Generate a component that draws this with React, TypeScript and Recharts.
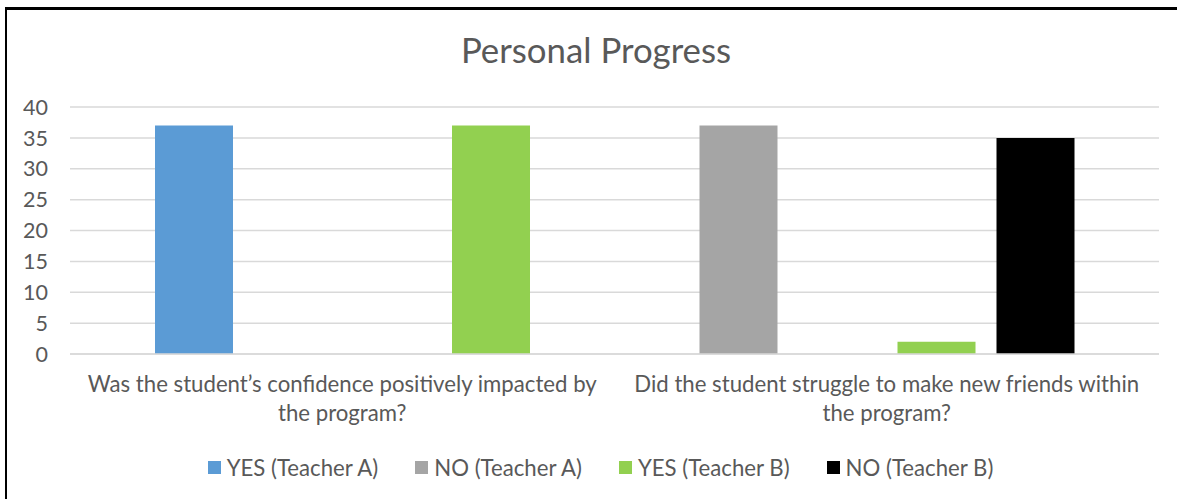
import React from "react";
import { BarChart, Bar, XAxis, YAxis, CartesianGrid, Legend, Cell } from "recharts";

const categories = [
  "Was the student’s confidence positively impacted by the program?",
  "Did the student struggle to make new friends within the program?",
];
const categoryLines = [
  ["Was the student’s confidence positively impacted by", "the program?"],
  ["Did the student struggle to make new friends within", "the program?"],
];
const seriesNames = ["YES (Teacher A)", "NO (Teacher A)", "YES (Teacher B)", "NO (Teacher B)"];
const seriesColors = ["#5B9BD5", "#A5A5A5", "#92D050", "#000000"];

// Four bar positions inside each category group; values and the series shown there, per category
const slot1Values = [37, 37];
const slot1Series = [0, 1];
const slot2Values = [0, 0];
const slot2Series = [1, 0];
const slot3Values = [0, 2];
const slot3Series = [3, 2];
const slot4Values = [37, 35];
const slot4Series = [2, 3];

const yTicks = [0, 5, 10, 15, 20, 25, 30, 35, 40];
const title = "Personal Progress";

const slots = [
  { key: "s1", values: slot1Values, series: slot1Series },
  { key: "s2", values: slot2Values, series: slot2Series },
  { key: "s3", values: slot3Values, series: slot3Series },
  { key: "s4", values: slot4Values, series: slot4Series },
];

const data = categories.map((c, i) => {
  const row: Record<string, any> = { category: c, idx: i };
  slots.forEach((s) => {
    row[s.key] = s.values[i];
  });
  return row;
});

const FONT = "Lato, 'Open Sans', sans-serif";
const TEXT = "#595959";

const CategoryTick = (props: any) => {
  const { x, y, index } = props;
  const lines = categoryLines[index] || [String(props.payload?.value ?? "")];
  return (
    <text x={x} y={y} textAnchor="middle" fill={TEXT} fontFamily={FONT} fontSize={22.2}>
      {lines.map((l: string, k: number) => (
        <tspan key={k} x={x} y={y + 38 + k * 29}>
          {l}
        </tspan>
      ))}
    </text>
  );
};

const LegendContent = () => (
  <div
    style={{
      height: 40,
      display: "flex",
      alignItems: "center",
      justifyContent: "center",
      paddingLeft: 42,
      boxSizing: "border-box",
      fontFamily: FONT,
      fontSize: 22.2,
      color: TEXT,
    }}
  >
    {seriesNames.map((n, i) => (
      <div key={n} style={{ display: "flex", alignItems: "center", marginRight: i < seriesNames.length - 1 ? 37 : 0 }}>
        <div style={{ width: 13, height: 13, background: seriesColors[i], marginRight: 6 }} />
        <span style={{ whiteSpace: "nowrap" }}>{n}</span>
      </div>
    ))}
  </div>
);

export default function App() {
  return (
    <div style={{ position: "absolute", left: 0, top: 0, width: 1177, height: 499, background: "#fff", overflow: "hidden" }}>
      <div style={{ position: "absolute", left: 5, top: 7, width: 1172, height: 3, background: "#000" }} />
      <div style={{ position: "absolute", left: 5, top: 7, width: 2, height: 492, background: "#000" }} />
      <div
        style={{
          position: "absolute",
          left: 0,
          top: 30,
          width: 1192,
          textAlign: "center",
          fontFamily: FONT,
          fontSize: 34.8,
          lineHeight: "40px",
          color: TEXT,
        }}
      >
        {title}
      </div>
      <div style={{ position: "absolute", left: 0, top: 0 }}>
        <BarChart
          width={1177}
          height={499}
          data={data}
          margin={{ top: 107, right: 18, bottom: 12, left: 0 }}
          barGap={21}
        >
          <CartesianGrid vertical={false} stroke="#D9D9D9" strokeWidth={1.5} />
          <XAxis
            dataKey="category"
            axisLine={{ stroke: "#D9D9D9", strokeWidth: 1.5 }}
            tickLine={false}
            tickSize={0}
            tickMargin={0}
            height={93}
            interval={0}
            tick={<CategoryTick />}
          />
          <YAxis
            width={70}
            domain={[0, 40]}
            ticks={yTicks}
            axisLine={false}
            tickLine={false}
            tickSize={0}
            tickMargin={22}
            tick={{ fill: TEXT, fontFamily: FONT, fontSize: 21.5 }}
          />
          <Legend verticalAlign="bottom" align="center" content={<LegendContent />} wrapperStyle={{ width: 1159, left: 0 }} />
          {slots.map((s) => (
            <Bar key={s.key} dataKey={s.key} barSize={78} isAnimationActive={false} legendType="none">
              {categories.map((c, i) => (
                <Cell key={c} fill={seriesColors[s.series[i]]} />
              ))}
            </Bar>
          ))}
        </BarChart>
      </div>
    </div>
  );
}
